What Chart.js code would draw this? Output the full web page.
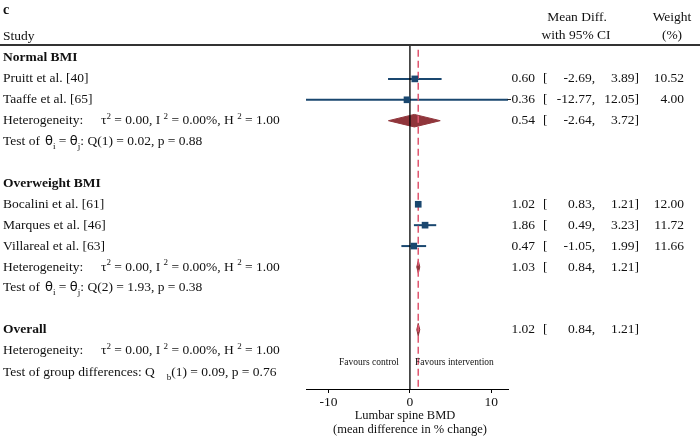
<!DOCTYPE html>
<html><head><meta charset="utf-8">
<script src="https://cdn.jsdelivr.net/npm/chart.js@4.4.1/dist/chart.umd.min.js"></script>
<style>html,body{margin:0;padding:0;background:#fff}#wrap{width:700px;height:436px;position:relative}</style>
</head><body><div id="wrap"><canvas id="c" width="700" height="436"></canvas></div>
<script>
// ---------- data ----------
const panelLabel = "c";
const groupNames = ["Normal BMI", "Overweight BMI"];
const studyLabels = ["Pruitt et al. [40]", "Taaffe et al. [65]", "Bocalini et al. [61]", "Marques et al. [46]", "Villareal et al. [63]"];
const studyGroup = ["Normal BMI", "Normal BMI", "Overweight BMI", "Overweight BMI", "Overweight BMI"];
const studyMD = [0.60, -0.36, 1.02, 1.86, 0.47];
const studyLower = [-2.69, -12.77, 0.83, 0.49, -1.05];
const studyUpper = [3.89, 12.05, 1.21, 3.23, 1.99];
const studyWeight = [10.52, 4.00, 12.00, 11.72, 11.66];
const groupMD = [0.54, 1.03];
const groupLower = [-2.64, 0.84];
const groupUpper = [3.72, 1.21];
const groupTau2 = [0.00, 0.00];
const groupI2 = [0.00, 0.00];
const groupH2 = [1.00, 1.00];
const groupQ = [0.02, 1.93];
const groupQdf = [1, 2];
const groupP = [0.88, 0.38];
const overallMD = 1.02, overallLower = 0.84, overallUpper = 1.21;
const overallTau2 = 0.00, overallI2 = 0.00, overallH2 = 1.00;
const diffQb = 0.09, diffQbDf = 1, diffP = 0.76;
const xTicks = [-10, 0, 10];
const xTitle = ["Lumbar spine BMD", "(mean difference in % change)"];
const favourLeft = "Favours control", favourRight = "Favours intervention";

// ---------- row layout ----------
const rows = [];
let r = 0;
groupNames.forEach((g, gi) => {
  rows.push({kind: 'group', text: g, y: r++});
  studyLabels.forEach((s, i) => { if (studyGroup[i] === g) rows.push({kind: 'study', i, y: r++}); });
  rows.push({kind: 'het', gi, y: r++});
  rows.push({kind: 'test', gi, y: r++});
  r++;
});
rows.push({kind: 'overall', y: r++});
rows.push({kind: 'ohet', y: r++});
rows.push({kind: 'gtest', y: r++});

const Y_MIN = -0.622, Y_MAX = 15.84, DIAM = 0.3;
const NAVY = '#1a476f', MAROON = '#90353b', RED = '#e0566f';
const SERIF = "'Liberation Serif','Times New Roman',serif";

function diamond(md, lo, hi, y) {
  return [{x: lo, y}, {x: md, y: y - DIAM}, {x: hi, y}, {x: md, y: y + DIAM}, {x: lo, y}];
}

const studyRows = rows.filter(o => o.kind === 'study');
const hetRows = rows.filter(o => o.kind === 'het');
const overallRow = rows.find(o => o.kind === 'overall');

const datasets = [];
// squares (top)
datasets.push({
  type: 'scatter',
  data: studyRows.map(o => ({x: studyMD[o.i], y: o.y})),
  pointStyle: 'rect', pointRadius: 4.7, backgroundColor: NAVY, borderWidth: 0
});
// zero line
datasets.push({type: 'line', data: [{x: 0, y: Y_MIN}, {x: 0, y: Y_MAX}], borderColor: '#000', borderWidth: 1.3, pointRadius: 0});
// overall dashed line
datasets.push({type: 'line', data: [{x: overallMD, y: -0.4}, {x: overallMD, y: Y_MAX}], borderColor: RED, borderWidth: 1.5, borderDash: [7, 4], pointRadius: 0});
// diamonds
hetRows.forEach(o => datasets.push({
  type: 'line', data: diamond(groupMD[o.gi], groupLower[o.gi], groupUpper[o.gi], o.y),
  fill: 'shape', backgroundColor: MAROON, borderColor: MAROON, borderWidth: 1, pointRadius: 0, tension: 0
}));
datasets.push({
  type: 'line', data: diamond(overallMD, overallLower, overallUpper, overallRow.y),
  fill: 'shape', backgroundColor: MAROON, borderColor: MAROON, borderWidth: 1, pointRadius: 0, tension: 0
});
// CI lines
studyRows.forEach(o => datasets.push({
  type: 'line', data: [{x: studyLower[o.i], y: o.y}, {x: studyUpper[o.i], y: o.y}],
  borderColor: NAVY, borderWidth: 2, pointRadius: 0
}));

// ---------- text drawing ----------
function rich(ctx, x, y, segs, base, small) {
  for (const s of segs) {
    if (s.x !== undefined) x = s.x;
    if (s.gap) { x += s.gap; continue; }
    let dy = 0;
    ctx.font = s.font || base;
    if (s.sup) { ctx.font = small; dy = -4; }
    if (s.sub) { ctx.font = small; dy = 5; }
    ctx.fillText(s.t, x, y + dy);
    x += ctx.measureText(s.t).width;
  }
}
const f2 = v => v.toFixed(2);

const textPlugin = {
  id: 'forestText',
  afterDraw(chart) {
    const ctx = chart.ctx, ys = chart.scales.y, xs = chart.scales.x;
    const base = "13.5px " + SERIF, bold = "bold 13.5px " + SERIF, small = "9px " + SERIF;
    const theta = "13px 'DejaVu Sans',sans-serif";
    ctx.save();
    ctx.fillStyle = '#111';
    ctx.textBaseline = 'middle';
    ctx.textAlign = 'left';
    // header
    ctx.font = "bold 14px " + SERIF; ctx.fillText(panelLabel, 3, 10);
    ctx.font = base; ctx.fillText("Study", 3, 36);
    ctx.textAlign = 'center';
    ctx.fillText("Mean Diff.", 577, 17);
    ctx.fillText("with 95% CI", 576, 35);
    ctx.fillText("Weight", 672, 17);
    ctx.fillText("(%)", 672, 35);
    // header rule
    ctx.strokeStyle = '#333'; ctx.lineWidth = 2;
    ctx.beginPath(); ctx.moveTo(0, 45); ctx.lineTo(700, 45); ctx.stroke();

    const stats = (y, md, lo, hi, w) => {
      ctx.font = base;
      ctx.textAlign = 'right'; ctx.fillText(f2(md), 535, y);
      ctx.textAlign = 'left'; ctx.fillText("[", 543, y);
      ctx.textAlign = 'right'; ctx.fillText(f2(lo) + ",", 595, y);
      ctx.fillText(f2(hi) + "]", 639, y);
      if (w !== undefined) ctx.fillText(f2(w), 684, y);
      ctx.textAlign = 'left';
    };
    const het = (y, t2, i2, h2) => rich(ctx, 3, y, [
      {t: "Heterogeneity:"}, {t: "τ", x: 101}, {t: "2", sup: true},
      {t: " = " + f2(t2) + ", I "}, {t: "2", sup: true},
      {t: " = " + f2(i2) + "%, H "}, {t: "2", sup: true}, {t: " = " + f2(h2)}
    ], base, small);

    for (const o of rows) {
      const y = ys.getPixelForValue(o.y);
      ctx.textAlign = 'left';
      if (o.kind === 'group') { ctx.font = bold; ctx.fillText(o.text, 3, y); }
      else if (o.kind === 'study') {
        ctx.font = base; ctx.fillText(studyLabels[o.i], 3, y);
        stats(y, studyMD[o.i], studyLower[o.i], studyUpper[o.i], studyWeight[o.i]);
      } else if (o.kind === 'het') {
        het(y, groupTau2[o.gi], groupI2[o.gi], groupH2[o.gi]);
        stats(y, groupMD[o.gi], groupLower[o.gi], groupUpper[o.gi]);
      } else if (o.kind === 'test') {
        rich(ctx, 3, y, [
          {t: "Test of "}, {t: "θ", font: theta, x: 45}, {t: "i", sub: true}, {t: " = "},
          {t: "θ", font: theta}, {t: "j", sub: true},
          {t: ": Q(" + groupQdf[o.gi] + ") = " + f2(groupQ[o.gi]) + ", p = " + f2(groupP[o.gi])}
        ], base, small);
      } else if (o.kind === 'overall') {
        ctx.font = bold; ctx.fillText("Overall", 3, y);
        stats(y, overallMD, overallLower, overallUpper);
      } else if (o.kind === 'ohet') {
        het(y, overallTau2, overallI2, overallH2);
      } else if (o.kind === 'gtest') {
        rich(ctx, 3, y + 1, [
          {t: "Test of group differences: Q"}, {gap: 12}, {t: "b", sub: true},
          {t: "(" + diffQbDf + ") = " + f2(diffQb) + ", p = " + f2(diffP)}
        ], base, small);
      }
    }
    // favours labels
    const x0 = xs.getPixelForValue(0);
    ctx.font = "9.5px " + SERIF;
    ctx.textAlign = 'right'; ctx.fillText(favourLeft, x0 - 11, 362);
    ctx.textAlign = 'left'; ctx.fillText(favourRight, x0 + 5, 362);
    // axis title
    const cx = (chart.chartArea.left + chart.chartArea.right) / 2;
    ctx.font = "12.5px " + SERIF; ctx.textAlign = 'center';
    ctx.fillText(xTitle[0], cx - 2, 416);
    ctx.fillText(xTitle[1], cx + 3, 430);
    ctx.restore();
  }
};

new Chart(document.getElementById('c'), {
  type: 'scatter',
  data: {datasets},
  options: {
    responsive: false, animation: false, devicePixelRatio: 1, events: [],
    layout: {padding: {left: 306, right: 192, top: 45, bottom: 0}},
    plugins: {legend: {display: false}, tooltip: {enabled: false}},
    scales: {
      x: {
        type: 'linear',
        min: Math.min(...studyLower), max: Math.max(...studyUpper),
        afterBuildTicks: s => { s.ticks = xTicks.map(v => ({value: v})); },
        afterFit: s => { s.height = 47; },
        grid: {drawOnChartArea: false, drawTicks: true, tickLength: 4, color: '#000', lineWidth: 1},
        border: {display: true, color: '#000', width: 1},
        ticks: {padding: 1, color: '#111', font: {family: SERIF, size: 13.5}, maxRotation: 0}
      },
      y: {type: 'linear', reverse: true, min: Y_MIN, max: Y_MAX, display: false}
    }
  },
  plugins: [textPlugin]
});
</script></body></html>
